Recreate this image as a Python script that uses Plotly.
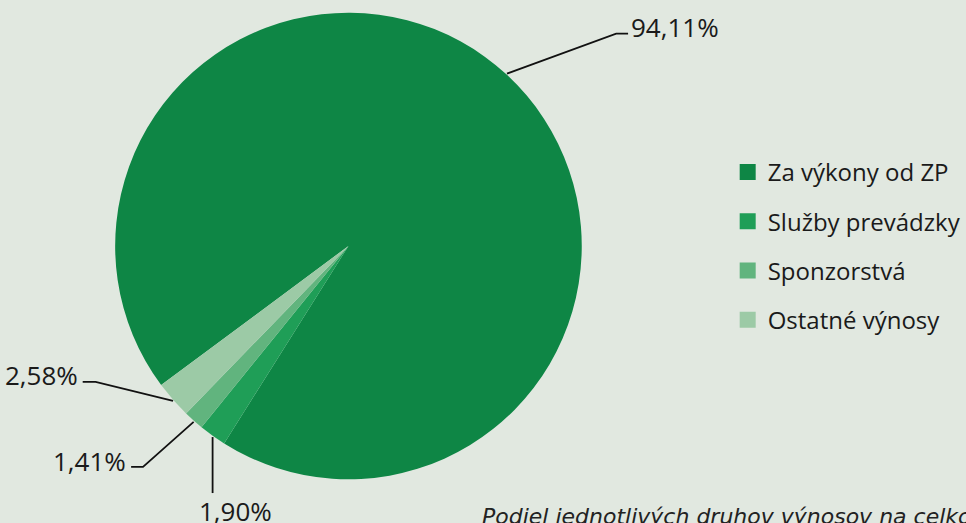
import math
import plotly.graph_objects as go

# ---- data ----
labels = ["Za výkony od ZP", "Služby prevádzky", "Sponzorstvá", "Ostatné výnosy"]
values = [94.11, 1.90, 1.41, 2.58]
value_text = ["94,11%", "1,90%", "1,41%", "2,58%"]
colors = ["#0e8645", "#1f9e57", "#61b47e", "#9ccaa6"]
caption = "Podiel jednotlivých druhov výnosov na celkových výnosoch"

# ---- layout geometry (pixels) ----
W, H = 966, 523
CX, CY, R = 351, 246, 235
ROT = 233.4
FONT = "Open Sans"
TXT = "#1a1a1a"
BG = "#e1e8e0"

# leader-line styling per slice: elbow offset, tail length, text side
leader = [
    dict(ex=110, ey=-40, tail=12, side="right", tdy=-7),
    dict(ex=0, ey=56, tail=0, side="below", tdy=18),
    dict(ex=-51, ey=45, tail=-12, side="left", tdy=-6),
    dict(ex=-78, ey=-19, tail=-13, side="left", tdy=-7),
]


def px(x):
    return x / W


def py(y):
    return 1 - y / H


fig = go.Figure()
fig.add_trace(go.Pie(
    labels=labels, values=values, sort=False, direction="clockwise",
    rotation=ROT, textinfo="none", hoverinfo="label+percent",
    marker=dict(colors=colors, line=dict(width=0)),
    domain=dict(x=[px(CX - R), px(CX + R)], y=[py(CY + R), py(CY - R)]),
    showlegend=False,
))

# legend via marker-only traces
for lab, col in zip(labels, colors):
    fig.add_trace(go.Scatter(
        x=[None], y=[None], mode="markers", name=lab, legendgroup=lab,
        marker=dict(symbol="square", size=16, color=col), showlegend=True,
        hoverinfo="skip",
    ))

total = sum(values)
cum = 0.0
shapes = []
annotations = []
for v, t, L in zip(values, value_text, leader):
    a = math.radians(ROT + (cum + v / 2) / total * 360)
    cum += v
    x0 = CX + R * math.sin(a)
    y0 = CY - R * math.cos(a)
    x1, y1 = x0 + L["ex"], y0 + L["ey"]
    x2 = x1 + L["tail"]
    path = f"M {px(x0)},{py(y0)} L {px(x1)},{py(y1)} L {px(x2)},{py(y1)}"
    shapes.append(dict(type="path", xref="paper", yref="paper", path=path,
                       line=dict(color="#111111", width=1.8)))
    if L["side"] == "right":
        ax, xa, ay = x2 + 1, "left", y1 + L["tdy"]
    elif L["side"] == "left":
        ax, xa, ay = x2 - 3, "right", y1 + L["tdy"]
    else:
        ax, xa, ay = x2 + 23, "center", y1 + L["tdy"]
    annotations.append(dict(
        x=px(ax), y=py(ay), xref="paper", yref="paper", text=t,
        showarrow=False, xanchor=xa, yanchor="middle",
        font=dict(family=FONT, size=26, color=TXT),
    ))

annotations.append(dict(
    x=px(483), y=py(501.5), xref="paper", yref="paper", text=caption,
    showarrow=False, xanchor="left", yanchor="top",
    font=dict(family="DejaVu Sans", size=22, color="#222222", style="italic"),
))

fig.update_layout(
    width=W, height=H,
    margin=dict(l=0, r=0, t=0, b=0),
    paper_bgcolor=BG, plot_bgcolor=BG,
    xaxis=dict(visible=False), yaxis=dict(visible=False),
    shapes=shapes, annotations=annotations,
    legend=dict(
        x=px(733), y=py(150), xanchor="left", yanchor="top",
        font=dict(family=FONT, size=24, color=TXT),
        tracegroupgap=15, bgcolor="rgba(0,0,0,0)", itemsizing="trace",
    ),
    showlegend=True,
)

fig.write_html(
    "out.html",
    config={"displayModeBar": False},
    post_script="document.body.style.margin='0';document.body.style.overflow='hidden';",
)
